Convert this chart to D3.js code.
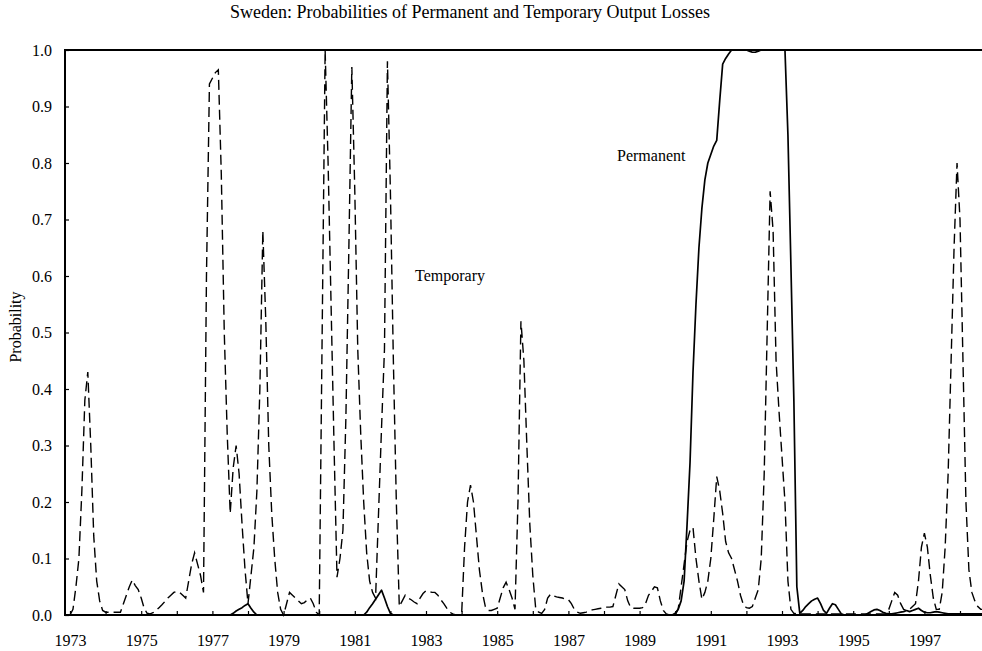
<!DOCTYPE html>
<html>
<head>
<meta charset="utf-8">
<script src="https://d3js.org/d3.v7.min.js"></script>
<style>
  body { margin: 0; background: #fff; }
  svg { font-family: 'Liberation Serif', 'Times New Roman', serif; }
</style>
</head>
<body>
<div id="chart"></div>
<script>
// monthly probabilities starting 1973:01, one line per year
var startYear = 1973;

var temporary = [
  0.0, 0.01, 0.05, 0.1, 0.22, 0.38, 0.43, 0.3, 0.14, 0.06, 0.025, 0.008,          // 1973
  0.005, 0.005, 0.005, 0.005, 0.005, 0.005, 0.02, 0.035, 0.05, 0.062, 0.052, 0.045, // 1974
  0.03, 0.012, 0.003, 0.002, 0.004, 0.008, 0.013, 0.018, 0.024, 0.03, 0.035, 0.04,  // 1975
  0.042, 0.04, 0.035, 0.03, 0.06, 0.09, 0.11, 0.09, 0.07, 0.04, 0.6, 0.94,          // 1976
  0.95, 0.96, 0.965, 0.78, 0.5, 0.32, 0.18, 0.26, 0.3, 0.25, 0.16, 0.08,           // 1977
  0.02, 0.07, 0.12, 0.22, 0.4, 0.68, 0.52, 0.3, 0.18, 0.1, 0.04, 0.01,             // 1978
  0.0, 0.02, 0.04, 0.035, 0.03, 0.025, 0.02, 0.022, 0.027, 0.03, 0.02, 0.005,      // 1979
  0.0, 0.5, 1.0, 0.8, 0.55, 0.3, 0.067, 0.1, 0.15, 0.35, 0.65, 0.97,               // 1980
  0.75, 0.47, 0.32, 0.2, 0.11, 0.06, 0.04, 0.03, 0.18, 0.33, 0.47, 0.98,           // 1981
  0.75, 0.45, 0.2, 0.015, 0.025, 0.035, 0.03, 0.027, 0.023, 0.02, 0.03, 0.038,     // 1982
  0.043, 0.042, 0.04, 0.04, 0.035, 0.027, 0.02, 0.012, 0.005, 0.002, 0.0, 0.0,     // 1983
  0.0, 0.12, 0.2, 0.23, 0.2, 0.14, 0.08, 0.04, 0.015, 0.008, 0.008, 0.01,          // 1984
  0.012, 0.03, 0.048, 0.058, 0.045, 0.03, 0.01, 0.2, 0.52, 0.45, 0.3, 0.16,        // 1985
  0.07, 0.01, 0.005, 0.003, 0.01, 0.03, 0.037, 0.034, 0.032, 0.031, 0.03, 0.028,   // 1986
  0.027, 0.02, 0.01, 0.005, 0.003, 0.004, 0.005, 0.007, 0.009, 0.01, 0.011, 0.012, // 1987
  0.013, 0.014, 0.014, 0.015, 0.035, 0.055, 0.05, 0.045, 0.025, 0.013, 0.012, 0.012, // 1988
  0.012, 0.013, 0.02, 0.035, 0.042, 0.05, 0.048, 0.025, 0.008, 0.002, 0.0, 0.0,    // 1989
  0.0, 0.01, 0.05, 0.09, 0.13, 0.15, 0.155, 0.1, 0.06, 0.028, 0.04, 0.06,          // 1990
  0.1, 0.17, 0.245, 0.22, 0.18, 0.13, 0.11, 0.1, 0.08, 0.06, 0.035, 0.018,         // 1991
  0.013, 0.012, 0.015, 0.03, 0.045, 0.1, 0.25, 0.5, 0.75, 0.68, 0.45, 0.36,        // 1992
  0.28, 0.2, 0.06, 0.01, 0.003, 0.002, 0.002, 0.002, 0.002, 0.002, 0.002, 0.002,   // 1993
  0.002, 0.002, 0.002, 0.002, 0.002, 0.002, 0.002, 0.002, 0.002, 0.002, 0.002, 0.002, // 1994
  0.002, 0.002, 0.002, 0.002, 0.002, 0.002, 0.002, 0.002, 0.002, 0.002, 0.002, 0.002, // 1995
  0.01, 0.025, 0.04, 0.035, 0.02, 0.01, 0.008, 0.01, 0.015, 0.02, 0.06, 0.12,      // 1996
  0.145, 0.12, 0.07, 0.03, 0.01, 0.01, 0.04, 0.12, 0.25, 0.45, 0.65, 0.8,          // 1997
  0.7, 0.45, 0.2, 0.08, 0.04, 0.025, 0.015, 0.01, 0.01                             // 1998
];

var permanent = [
  0, 0, 0, 0, 0, 0, 0, 0, 0, 0, 0, 0,                                              // 1973
  0, 0, 0, 0, 0, 0, 0, 0, 0, 0, 0, 0,                                              // 1974
  0, 0, 0, 0, 0, 0, 0, 0, 0, 0, 0, 0,                                              // 1975
  0, 0, 0, 0, 0, 0, 0, 0, 0, 0, 0, 0,                                              // 1976
  0, 0, 0, 0, 0, 0, 0, 0.003, 0.007, 0.01, 0.013, 0.017,                           // 1977
  0.02, 0.012, 0.005, 0, 0, 0, 0, 0, 0, 0, 0, 0,                                   // 1978
  0, 0, 0, 0, 0, 0, 0, 0, 0, 0, 0, 0,                                              // 1979
  0, 0, 0, 0, 0, 0, 0, 0, 0, 0, 0, 0,                                              // 1980
  0, 0, 0, 0, 0.005, 0.013, 0.02, 0.028, 0.036, 0.044, 0.03, 0.015,               // 1981
  0.003, 0, 0, 0, 0, 0, 0, 0, 0, 0, 0, 0,                                          // 1982
  0, 0, 0, 0, 0, 0, 0, 0, 0, 0, 0, 0,                                              // 1983
  0, 0, 0, 0, 0, 0, 0, 0, 0, 0, 0, 0,                                              // 1984
  0, 0, 0, 0, 0, 0, 0, 0, 0, 0, 0, 0,                                              // 1985
  0, 0, 0, 0, 0, 0, 0, 0, 0, 0, 0, 0,                                              // 1986
  0, 0, 0, 0, 0, 0, 0, 0, 0, 0, 0, 0,                                              // 1987
  0, 0, 0, 0, 0, 0, 0, 0, 0, 0, 0, 0,                                              // 1988
  0, 0, 0, 0, 0, 0, 0, 0, 0, 0, 0, 0,                                              // 1989
  0.003, 0.01, 0.025, 0.06, 0.16, 0.27, 0.43, 0.55, 0.65, 0.72, 0.77, 0.8,         // 1990
  0.815, 0.83, 0.84, 0.91, 0.975, 0.985, 0.993, 1.0, 1.0, 1.0, 1.0, 1.0,           // 1991
  1.0, 0.998, 0.996, 0.996, 0.998, 1.0, 1.0, 1.0, 1.0, 1.0, 1.0, 1.0,              // 1992
  1.0, 1.0, 0.85, 0.62, 0.38, 0.05, 0.003, 0.008, 0.015, 0.02, 0.025, 0.028,       // 1993
  0.03, 0.02, 0.008, 0.003, 0.012, 0.02, 0.018, 0.01, 0.002, 0, 0, 0,              // 1994
  0, 0, 0, 0, 0, 0.003, 0.006, 0.009, 0.01, 0.008, 0.005, 0.003,                   // 1995
  0.002, 0.002, 0.003, 0.004, 0.005, 0.006, 0.008, 0.006, 0.008, 0.01, 0.012, 0.008, // 1996
  0.005, 0.004, 0.004, 0.005, 0.006, 0.005, 0.004, 0.003, 0.002, 0.002, 0.002, 0.002, // 1997
  0.002, 0.002, 0.002, 0.002, 0.002, 0.002, 0.002, 0.002, 0.002                    // 1998
];

var yTicks = [0, 0.1, 0.2, 0.3, 0.4, 0.5, 0.6, 0.7, 0.8, 0.9, 1.0];
var xTicks = [1973, 1974, 1975, 1976, 1977, 1978, 1979, 1980, 1981, 1982, 1983, 1984, 1985,
              1986, 1987, 1988, 1989, 1990, 1991, 1992, 1993, 1994, 1995, 1996, 1997, 1998];
var xLabels = [1973, 1975, 1977, 1979, 1981, 1983, 1985, 1987, 1989, 1991, 1993, 1995, 1997];

var title = "Sweden: Probabilities of Permanent and Temporary Output Losses";

var W = 982, H = 651;
var plotLeft = 65, plotRight = 982, plotTop = 50, plotBottom = 615;

var svg = d3.select("#chart").append("svg")
  .attr("width", W).attr("height", H);

var x = d3.scaleLinear().domain([1973, 1999]).range([70, 70 + 26 * 35.6]);
var y = d3.scaleLinear().domain([0, 1]).range([plotBottom, plotTop]);

svg.append("defs").append("clipPath").attr("id", "plot")
  .append("rect").attr("x", plotLeft).attr("y", plotTop - 3)
  .attr("width", plotRight - plotLeft).attr("height", plotBottom - plotTop + 6);

function toPoints(arr) {
  return arr.map(function (v, i) { return [startYear + i / 12, v]; });
}

var line = d3.line()
  .x(function (d) { return x(d[0]); })
  .y(function (d) { return y(d[1]); });

// axes
var yAxis = d3.axisLeft(y).tickValues(yTicks).tickSize(-4).tickPadding(13)
  .tickFormat(d3.format(".1f"));
var gy = svg.append("g").attr("transform", "translate(" + plotLeft + ",0)").call(yAxis);
gy.select(".domain").remove();
gy.selectAll("line").attr("stroke", "#000").attr("stroke-width", 1.2);
gy.selectAll("text").attr("font-size", 16).attr("font-family", "'Liberation Serif', serif")
  .attr("fill", "#000");

var xAxis = d3.axisBottom(x).tickValues(xTicks).tickSize(-4).tickPadding(20)
  .tickFormat(function (d) { return xLabels.indexOf(d) >= 0 ? d : ""; });
var gx = svg.append("g").attr("transform", "translate(0," + plotBottom + ")").call(xAxis);
gx.select(".domain").remove();
gx.selectAll("line").attr("stroke", "#000").attr("stroke-width", 1.2);
gx.selectAll("text").attr("font-size", 16).attr("font-family", "'Liberation Serif', serif")
  .attr("fill", "#000");

// frame: left, bottom, top
svg.append("path")
  .attr("d", "M" + plotRight + "," + plotTop + "H" + plotLeft + "V" + plotBottom + "H" + plotRight)
  .attr("fill", "none").attr("stroke", "#000").attr("stroke-width", 2);

// series
var plot = svg.append("g").attr("clip-path", "url(#plot)");

plot.append("path")
  .datum(toPoints(permanent))
  .attr("d", line)
  .attr("fill", "none").attr("stroke", "#000").attr("stroke-width", 1.7)
  .attr("stroke-linejoin", "round");

plot.append("path")
  .datum(toPoints(temporary))
  .attr("d", line)
  .attr("fill", "none").attr("stroke", "#000").attr("stroke-width", 1.4)
  .attr("stroke-dasharray", "10,5");

// texts
svg.append("text").attr("x", 470).attr("y", 18).attr("text-anchor", "middle")
  .attr("font-size", 18).text(title);

svg.append("text")
  .attr("transform", "translate(21,327) rotate(-90)")
  .attr("text-anchor", "middle").attr("font-size", 16).text("Probability");

svg.append("text").attr("x", 415).attr("y", 281).attr("font-size", 16).text("Temporary");
svg.append("text").attr("x", 617).attr("y", 161).attr("font-size", 16).text("Permanent");
</script>
</body>
</html>
